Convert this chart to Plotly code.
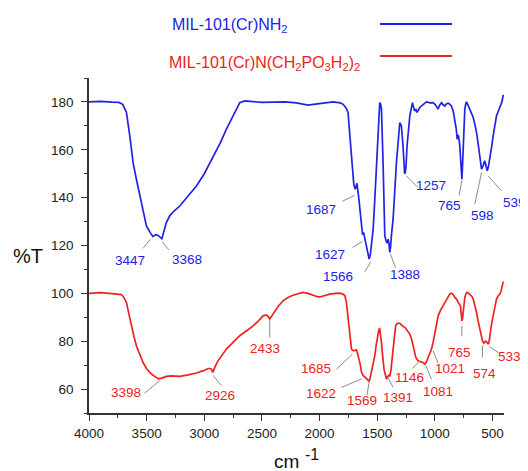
import plotly.graph_objects as go

# ---------------- data ----------------
wn_nh2 = [4000, 3900, 3800, 3740, 3708, 3675, 3646, 3618, 3589, 3560, 3530, 3502, 3470, 3447,
          3420, 3400, 3368, 3350, 3330, 3300, 3260, 3213, 3150, 3068, 3000, 2924, 2860, 2808,
          2750, 2692, 2649, 2500, 2300, 2200, 2100, 2027, 1950, 1883, 1820, 1796, 1770, 1753,
          1738, 1723, 1710, 1703, 1690, 1676, 1660, 1640, 1627, 1618, 1607, 1590, 1570, 1560,
          1550, 1535, 1520, 1506, 1490, 1478, 1470, 1463, 1449, 1440, 1434, 1420, 1412, 1405,
          1398, 1391, 1385, 1375, 1362, 1333, 1318, 1304, 1295, 1290, 1276, 1262, 1257, 1250,
          1241, 1217, 1194, 1180, 1174, 1164, 1154, 1131, 1100, 1073, 1040, 1015, 995, 980,
          972, 960, 942, 928, 913, 900, 884, 870, 856, 840, 826, 815, 806, 800, 794, 783, 775,
          765, 760, 754, 748, 740, 730, 725, 715, 705, 696, 685, 675, 667, 650, 638, 620, 609,
          605, 595, 580, 567, 555, 545, 535, 523, 508, 494, 480, 465, 450, 436, 425, 418, 410,
          405]
t_nh2 = [180, 180.2, 179.9, 179.8, 179, 175.6, 165.8, 154.7, 147.7, 140.7, 134, 128.2, 125.5, 123.8,
         124.5, 124.2, 122.8, 126, 129.5, 132.4, 134.5, 136.5, 140, 144.9, 150, 156.8, 163, 168.6,
         174.5, 179.7, 180.4, 179.8, 180, 179.6, 178.7, 179, 179.6, 180, 179.6, 179, 177.5, 175.6,
         166, 154.7, 148, 145.5, 143.5, 146, 140, 130, 124.5, 125.5, 122.6, 118, 114.3, 116,
         120, 126.8, 140, 154.7, 170, 179.7, 179, 177, 154.7, 135, 124, 121.5, 121, 122.6,
         121, 117.1, 119, 125, 131, 154.7, 164, 171.4, 170.5, 170, 161.6, 150, 150.5, 153,
         161.6, 174.2, 179.7, 177, 176.2, 176.8, 175.6, 177.7, 179, 180, 179.6, 179.7, 178.8, 177.5,
         177, 178.5, 179.7, 178.8, 178.3, 179.2, 179.5, 179, 178.3, 176, 172.8, 169, 164.4, 166, 165.8, 161.6, 155,
         147.7, 153, 161.6, 170, 177, 179.6, 180, 179, 177.8, 177, 175.5, 175, 173.5, 170, 167.2, 161, 157.4,
         154, 151.9, 153.5, 155.4, 153, 151.2, 153, 156, 161, 165.8, 170, 174.2, 176, 177.7, 178.5, 180, 182,
         183]

wn_po3 = [4000, 3900, 3800, 3740, 3719, 3700, 3675, 3650, 3632, 3610, 3589, 3560, 3531, 3500,
          3459, 3420, 3398, 3370, 3350, 3328, 3280, 3213, 3150, 3068, 3000, 2967, 2950, 2938,
          2926, 2915, 2905, 2881, 2852, 2808, 2750, 2692, 2630, 2577, 2530, 2490, 2461, 2445,
          2433, 2420, 2403, 2360, 2317, 2270, 2230, 2180, 2143, 2100, 2056, 2020, 1998, 1960,
          1911, 1860, 1825, 1796, 1780, 1767, 1755, 1744, 1733, 1723, 1712, 1703, 1690, 1680,
          1668, 1657, 1646, 1636, 1622, 1605, 1593, 1570, 1560, 1550, 1535, 1521, 1510, 1498,
          1485, 1478, 1470, 1463, 1455, 1449, 1440, 1434, 1420, 1412, 1405, 1398, 1391, 1380,
          1368, 1358, 1348, 1340, 1333, 1318, 1304, 1290, 1276, 1260, 1246, 1230, 1217, 1200,
          1188, 1175, 1165, 1146, 1130, 1116, 1100, 1087, 1075, 1058, 1040, 1029, 1015, 1000,
          985, 971, 950, 928, 905, 884, 870, 856, 840, 826, 810, 797, 785, 777, 770, 765, 760,
          754, 747, 740, 730, 720, 710, 696, 680, 667, 652, 638, 625, 609, 595, 586, 574, 560,
          548, 535, 527, 518, 510, 494, 480, 465, 450, 436, 425, 415, 407]
t_po3 = [100, 100.3, 99.9, 99.8, 99.5, 98.5, 96.2, 90.5, 86.4, 82, 78.1, 74.5, 71.1, 68.5,
         66.3, 65, 64.3, 64.6, 65, 65.3, 65.5, 65.3, 65.8, 66.7, 67.8, 68.6, 68.6, 68.3,
         67, 68.5, 69.5, 71.8, 73.6, 76.7, 79.5, 82.3, 84.5, 86.4, 88.5, 90.6, 91, 90.3,
         89.2, 90.2, 91.3, 94.5, 96.9, 98.4, 99.2, 100, 100.4, 100, 99.2, 98.6, 98.5, 99,
         99.7, 100, 100.1, 99.7, 99, 96.2, 91, 86.4, 81, 76.7, 76.2, 76, 76.2, 76.4,
         74.5, 72.5, 70, 67, 65.6, 65, 64.5, 63.2, 65, 67, 70.5, 73.9, 78, 82.3,
         85, 85.2, 83, 79.5, 75, 71.1, 68, 67, 64.2, 65, 65.6, 65.8, 65.3, 68,
         73.9, 79, 85, 86.5, 87.1, 87.5, 87.5, 86.8, 86.2, 85.8, 85, 84.2, 83, 80.5,
         78.1, 75.5, 73.2, 71.8, 71.6, 71.4, 71, 70.4, 71.2, 73.2, 75, 76.7, 79.5, 83.7,
         87.5, 90.6, 93, 94.8, 97, 99, 99.8, 100.1, 99.5, 98.3, 97.5, 96.2, 95.5, 94.8, 91, 88.5, 89.5,
         92, 96, 98.3, 99.8, 100.4, 100.2, 99.7, 98.8, 97.6, 95, 92, 88.5, 84.3, 81.5, 80, 79.2, 80,
         79.5, 78.8, 80.5, 84, 86.5, 90.6, 94.5, 97.6, 99, 99.7, 101, 103, 104.9]

x_ticks = [500, 1000, 1500, 2000, 2500, 3000, 3500, 4000]
y_ticks = [60, 80, 100, 120, 140, 160, 180]

series_names = ["MIL-101(Cr)NH<sub>2</sub>",
                "MIL-101(Cr)N(CH<sub>2</sub>PO<sub>3</sub>H<sub>2</sub>)<sub>2</sub>"]

# peak labels: (text, label x, label y, leader x0, y0, x1, y1, xshift)
peaks_nh2 = [("3447", 3647, 113.9, 3531, 118.8, 3467, 122.6, 0),
             ("3368", 3150, 114.3, 3363, 121.5, 3308, 118.2, 0),
             ("1687", 1990, 135.2, 1801, 138.5, 1695, 141.0, 0),
             ("1627", 1912, 116.4, 1714, 119.2, 1628, 121.7, 0),
             ("1566", 1838, 107.2, 1607, 109.0, 1555, 113.2, 0),
             ("1388", 1261, 108.0, 1385, 116.4, 1341, 110.8, 0),
             ("1257", 1029, 145.2, 1246, 149.1, 1145, 144.2, 0),
             ("765", 876, 136.9, 764, 147.4, 790, 141.0, 0),
             ("598", 587, 132.7, 595, 150.5, 653, 137.3, 0),
             ("539", 420, 138.0, 538, 149.1, 422, 142.8, 13)]
peaks_po3 = [("3398", 3675, 58.6, 3517, 58.3, 3387, 63.5, 0),
             ("2926", 2866, 57.5, 2924, 65.8, 2851, 61.4, 0),
             ("2433", 2476, 77.0, 2432, 89.2, 2432, 81.6, 0),
             ("1685", 2027, 68.8, 1853, 68.3, 1715, 74.6, 0),
             ("1622", 1984, 58.3, 1810, 60.7, 1636, 64.2, 0),
             ("1569", 1636, 55.1, 1570, 63.0, 1588, 57.5, 0),
             ("1391", 1319, 56.5, 1406, 64.9, 1362, 60.7, 0),
             ("1146", 1217, 64.9, 1194, 68.6, 1131, 71.8, 0),
             ("1081", 972, 58.9, 1078, 69.7, 1029, 64.2, 0),
             ("1021", 870, 68.8, 1015, 76.0, 972, 70.9, 0),
             ("765", 790, 75.3, 766, 86.4, 766, 82.3, 0),
             ("574", 567, 66.7, 587, 78.1, 587, 73.2, 0),
             ("533", 420, 73.6, 529, 77.8, 451, 75.3, 8)]

# ---------------- figure ----------------
BLUE = "#2222e6"
RED = "#ee2222"
FONT = "Liberation Sans, Arial, sans-serif"

# page body has an 8 px margin; figure is sized so it fits the 528x471 window
W, H = 520, 463
ML, MR, MT, MB = 81, 24, 70, 58
PW = W - ML - MR  # 415


def px_to_paper_x(px):
    return (px - 8 - ML) / PW


def px_to_paper_y(py):
    return (H - MB - (py - 8)) / (H - MT - MB)


fig = go.Figure()
fig.add_trace(go.Scatter(x=wn_nh2, y=t_nh2, mode="lines", line=dict(color=BLUE, width=1.7),
                         name="NH2", showlegend=False))
fig.add_trace(go.Scatter(x=wn_po3, y=t_po3, mode="lines", line=dict(color=RED, width=1.7),
                         name="PO3H2", showlegend=False))

annotations = []
shapes = []
for peaks, col in ((peaks_nh2, BLUE), (peaks_po3, RED)):
    for txt, lx, ly, x0, y0, x1, y1, xs in peaks:
        annotations.append(dict(x=lx, y=ly, xref="x", yref="y", text=txt, showarrow=False,
                                xanchor="center", yanchor="middle",
                                xshift=xs, font=dict(family=FONT, size=13.5, color=col)))
        shapes.append(dict(type="line", xref="x", yref="y", x0=x0, y0=y0, x1=x1, y1=y1,
                           line=dict(color="#8a8a8a", width=1)))

# legend (text left, line sample right)
legend_px = [(170, 25, 24), (167, 63, 56)]
for name, col, (tx, ty, lyp) in zip(series_names, (BLUE, RED), legend_px):
    annotations.append(dict(x=px_to_paper_x(tx), y=px_to_paper_y(ty),
                            xref="paper", yref="paper", xanchor="left", yanchor="middle",
                            text=name, showarrow=False,
                            font=dict(family=FONT, size=16, color=col)))
    shapes.append(dict(type="line", xref="paper", yref="paper",
                       x0=px_to_paper_x(380), x1=px_to_paper_x(452),
                       y0=px_to_paper_y(lyp), y1=px_to_paper_y(lyp), line=dict(color=col, width=2)))

# axis titles
annotations.append(dict(x=px_to_paper_x(28), y=px_to_paper_y(256), xref="paper", yref="paper",
                        xanchor="center", yanchor="middle",
                        text="%T", showarrow=False, font=dict(family=FONT, size=20, color="#111")))
annotations.append(dict(x=px_to_paper_x(286), y=px_to_paper_y(461), xref="paper", yref="paper",
                        xanchor="center", yanchor="middle",
                        text="cm", showarrow=False, font=dict(family=FONT, size=19, color="#111")))
annotations.append(dict(x=px_to_paper_x(312), y=px_to_paper_y(454), xref="paper", yref="paper",
                        xanchor="center", yanchor="middle",
                        text="-1", showarrow=False, font=dict(family=FONT, size=16, color="#111")))

axis_common = dict(showline=True, linecolor="#333", linewidth=1.5, ticks="outside", ticklen=6,
                   tickwidth=1.3, tickcolor="#333", showgrid=False, zeroline=False,
                   tickfont=dict(family=FONT, size=13.5, color="#222"))

fig.update_layout(
    width=W, height=H,
    margin=dict(l=ML, r=MR, t=MT, b=MB),
    paper_bgcolor="white", plot_bgcolor="white",
    xaxis=dict(range=[4000, 400], tickvals=x_ticks, ticktext=[str(v) for v in x_ticks],
               ticklabelstandoff=1,
               minor=dict(ticks="outside", ticklen=3, tickwidth=1.2, tickcolor="#333",
                          tick0=250, dtick=250),
               **axis_common),
    yaxis=dict(range=[50, 190], tickvals=y_ticks, ticktext=[str(v) for v in y_ticks],
               ticklabelstandoff=5,
               minor=dict(ticks="outside", ticklen=3, tickwidth=1.2, tickcolor="#333",
                          tick0=50, dtick=10),
               **axis_common),
    annotations=annotations,
    shapes=shapes,
)

fig.write_html("out.html")
